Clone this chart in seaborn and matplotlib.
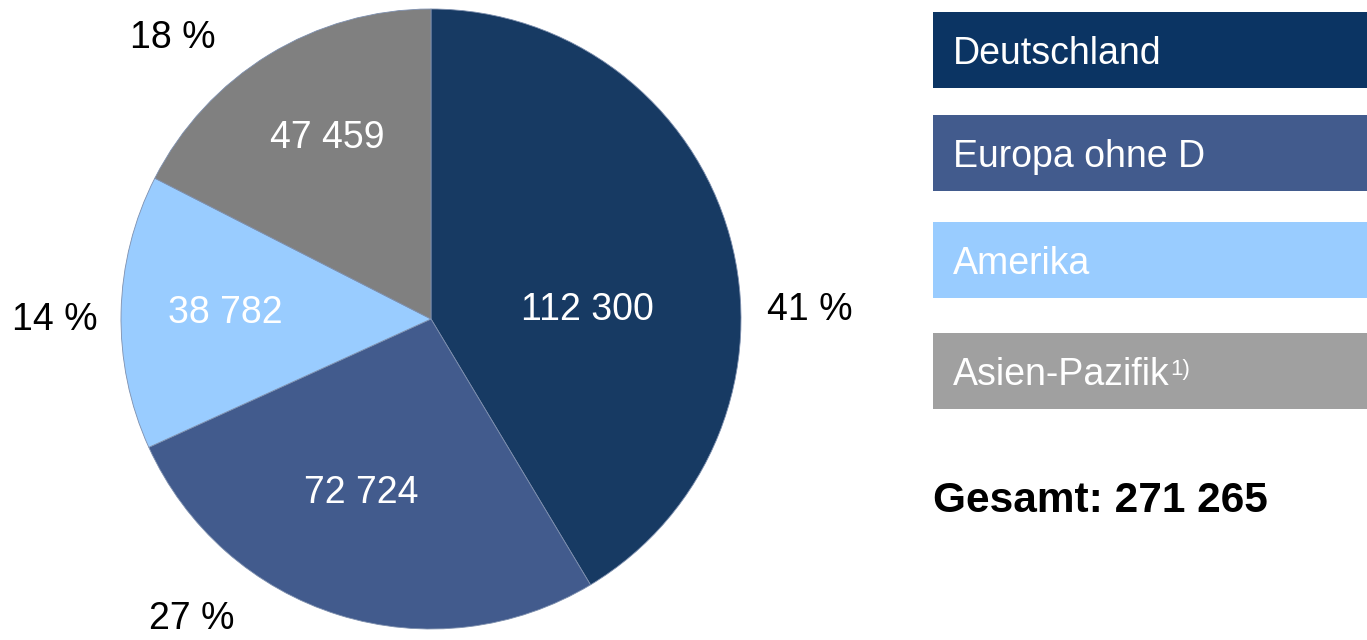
import matplotlib
matplotlib.use("Agg")
import matplotlib.pyplot as plt
from matplotlib.patches import Rectangle
import seaborn as sns

# ---- data ----
categories = ["Deutschland", "Europa ohne D", "Amerika", "Asien-Pazifik"]
values = [112300, 72724, 38782, 47459]
pct_labels = ["41 %", "27 %", "14 %", "18 %"]
total_label = "Gesamt: 271 265"
footnote = "1)"

pie_colors = ["#173A63", "#425B8D", "#99CCFF", "#808080"]
legend_colors = ["#0B3463", "#425B8D", "#99CCFF", "#A0A0A0"]

# label anchor positions (pie units: centre 0,0, radius 1)
value_pos = [(0.506, 0.029), (-0.226, -0.561), (-0.665, 0.019), (-0.335, 0.584)]
pct_pos = [(1.223, 0.029), (-0.771, -0.968), (-1.213, -0.003), (-0.832, 0.906)]

sns.set_theme(style="white")
plt.rcParams["font.family"] = ["Liberation Sans", "DejaVu Sans"]

W, H = 1367, 640
fig = plt.figure(figsize=(W / 100, H / 100), dpi=100)
fig.patch.set_facecolor("white")

cx, cy, r = 431, 319, 310
ax = fig.add_axes([(cx - r) / W, (H - cy - r) / H, 2 * r / W, 2 * r / H])
ax.pie(values, colors=pie_colors, startangle=90, counterclock=False,
       wedgeprops=dict(linewidth=0.6, edgecolor="#7d8fae"), frame=False)
ax.set_xlim(-1, 1)
ax.set_ylim(-1, 1)
ax.set_aspect("equal")
ax.axis("off")

FS = 27
for v, (x, y) in zip(values, value_pos):
    ax.text(x, y, f"{v:,}".replace(",", " "), color="white", fontsize=FS,
            ha="center", va="center")
for lab, (x, y) in zip(pct_labels, pct_pos):
    ax.text(x, y, lab, color="black", fontsize=FS, ha="center", va="center")

# ---- legend boxes ----
box_tops = [12, 115, 222, 333]
box_h = 76
x0, x1 = 933, 1367
last_text = None
for i, (cat, col) in enumerate(zip(categories, legend_colors)):
    top = box_tops[i]
    fig.patches.append(Rectangle((x0 / W, (H - top - box_h) / H), (x1 - x0) / W, box_h / H,
                                 transform=fig.transFigure, facecolor=col,
                                 edgecolor="none", zorder=1))
    t = fig.text(953 / W, (H - top - box_h / 2) / H, cat, color="white",
                 fontsize=FS, ha="left", va="center_baseline", zorder=2)
    last_text = t

sup = fig.text(0, 0, footnote, color="white", fontsize=16, zorder=2,
               ha="left", va="top")
fig.canvas.draw()
bb = last_text.get_window_extent()
sup.set_position(((bb.x1 + 0.5) / W, (bb.y1 - 2) / H))

fig.text(933 / W, (H - 496) / H, total_label, color="black", fontsize=30.5,
         fontweight="bold", ha="left", va="center_baseline")

fig.savefig("out.png", dpi=100, facecolor="white")
